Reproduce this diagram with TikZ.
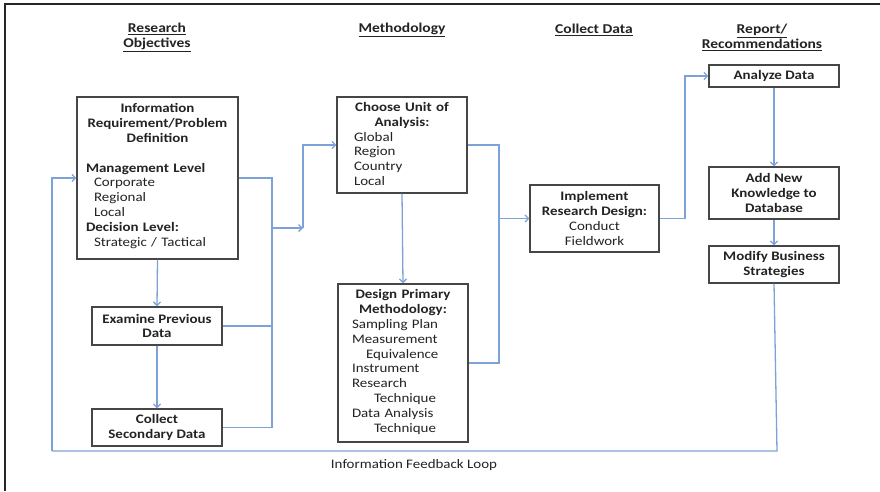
\documentclass[tikz,border=0pt]{standalone}
\usepackage{fontspec}
\setmainfont{Carlito}[FakeStretch=1.15]
\usetikzlibrary{arrows.meta,calc}
\definecolor{boxc}{RGB}{70,70,70}
\definecolor{linec}{RGB}{125,162,215}
\definecolor{txtc}{RGB}{35,35,35}
\begin{document}
\begin{tikzpicture}[x=1pt,y=-1pt,
  every node/.style={text=txtc,font=\fontsize{13}{14.8}\selectfont},
  box/.style={draw=boxc,line width=1.3pt,inner sep=0pt,fill=white},
  bbox/.style={box,align=center,font=\fontsize{13}{14.8}\selectfont\bfseries},
  hdr/.style={align=center,font=\fontsize{13.5}{15}\selectfont\bfseries},
  conn/.style={draw=linec,line width=1.3pt},
  arr/.style={conn,-{Straight Barb[length=3.5pt,width=7pt]}}]
\useasboundingbox (0,0) rectangle (880,491);
\fill[white] (0,0) rectangle (880,491);
\draw[line width=2pt,black!85] (5,491) -- (5,4) -- (880,4);

% headers
\node[hdr] (h1) at (157,37.5) {\underline{Research}\\\underline{Objectives}};
\node[hdr] (h2) at (402,30) {\underline{Methodology}};
\node[hdr] (h3) at (594,30) {\underline{Collect Data}};
\node[hdr] (h4) at (762,37.5) {\underline{Report/}\\\underline{Recommendations}};

% boxes
\node[box,minimum width=161pt,minimum height=162pt,text width=143pt] (ir) at (157.5,178)
 {{\centering\bfseries Information\\Requirement/Problem\\Definition\par}
  \vspace{14.8pt}
  {\bfseries Management Level}\\
  \hspace*{8pt}Corporate\\
  \hspace*{8pt}Regional\\
  \hspace*{8pt}Local\\
  {\bfseries Decision Level:}\\
  \hspace*{8pt}Strategic / Tactical\par\vspace{4pt}};
\node[bbox,minimum width=130pt,minimum height=38pt] (epd) at (157,326) {Examine Previous\\Data};
\node[bbox,minimum width=130pt,minimum height=37pt] (csd) at (157,427.5) {Collect\\Secondary Data};

\node[box,minimum width=130pt,minimum height=96pt,text width=96pt] (cua) at (402,145)
 {{\centering\bfseries Choose Unit of\\Analysis:\par}
  Global\\Region\\Country\\Local\par\vspace{2pt}};
\node[box,minimum width=130pt,minimum height=158pt,text width=102pt] (dpm) at (403,363)
 {{\centering\bfseries Design Primary\\Methodology:\par}
  Sampling Plan\\
  Measurement\\
  \hspace*{14pt}Equivalence\\
  Instrument\\
  Research\\
  \hspace*{22pt}Technique\\
  Data Analysis\\
  \hspace*{22pt}Technique\par\vspace{2pt}};

\node[box,minimum width=129pt,minimum height=67pt,align=center] (ird) at (594.5,218.5)
 {\textbf{Implement}\\\textbf{Research Design:}\\Conduct\\Fieldwork};

\node[bbox,minimum width=130pt,minimum height=22pt] (ad) at (774,76) {Analyze Data};
\node[bbox,minimum width=130pt,minimum height=52pt] (ank) at (774,193) {Add New\\Knowledge to\\Database};
\node[bbox,minimum width=130pt,minimum height=37pt] (mbs) at (774,264.5) {Modify Business\\Strategies};

\node (fbl) at (414,465) {Information Feedback Loop};

% connectors
\coordinate (fbR) at (777,451);
\coordinate (fbL) at (52,451);
\draw[conn] (mbs.south) -- (fbR) -- (fbL);
\draw[arr] (fbL) |- (ir.west);

\draw[arr] (ir.south) -- (epd.north);
\draw[arr] (epd.south) -- (csd.north);

\coordinate (b1) at (272,427.5);
\draw[conn] (ir.east) -| (b1) -- (csd.east);
\draw[conn] (epd.east) -- (epd.east -| b1);
\coordinate (j1) at (272,228);
\coordinate (j1b) at (303,228);
\draw[arr] (j1) -- (j1b);
\draw[arr] (j1b) |- (cua.west);

\draw[arr] (cua.south) -- (dpm.north);
\coordinate (b2) at (499,363);
\draw[conn] (cua.east) -| (b2) -- (dpm.east);
\coordinate (j2) at (499,218.5);
\draw[arr] (j2) -- (ird.west);

\coordinate (j3) at (685,218.5);
\draw[arr] (ird.east) -- (j3) |- (ad.west);
\draw[arr] (ad.south) -- (ank.north);
\draw[arr] (ank.south) -- (mbs.north);
\end{tikzpicture}
\end{document}
